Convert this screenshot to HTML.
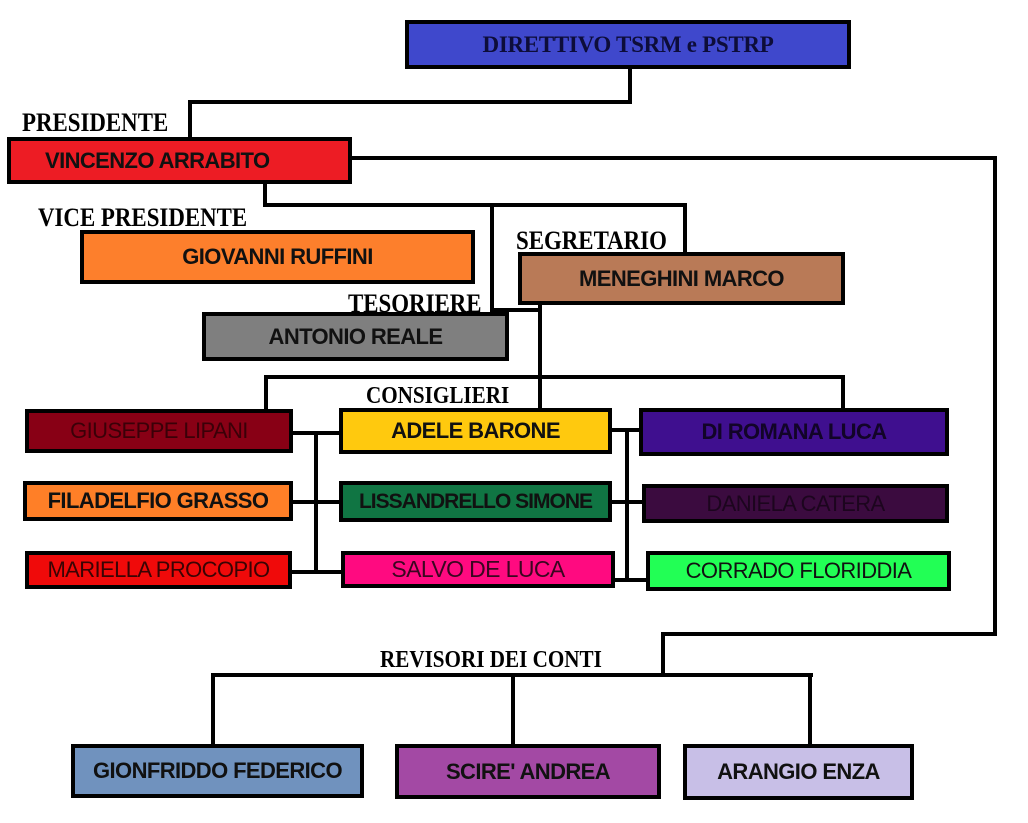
<!DOCTYPE html>
<html><head><meta charset="utf-8"><style>
body{margin:0;width:1028px;height:823px;background:#fff;position:relative;overflow:hidden}
.b{position:absolute;box-sizing:border-box;border:4px solid #000;display:flex;align-items:center;justify-content:center;font-family:"Liberation Sans",sans-serif;font-weight:bold;font-size:22px;letter-spacing:-0.6px;color:#111;white-space:nowrap}
.l{position:absolute;background:#000}
.t{position:absolute;font-family:"Liberation Serif",serif;font-weight:bold;font-size:26px;color:#000;white-space:nowrap;transform-origin:left top;transform:scaleX(0.88);line-height:1}
</style></head><body>
<!-- lines -->
<div class="l" style="left:628px;top:66px;width:4px;height:38px"></div>
<div class="l" style="left:188px;top:100px;width:444px;height:4px"></div>
<div class="l" style="left:188px;top:100px;width:4px;height:40px"></div>
<div class="l" style="left:349px;top:156px;width:648px;height:4px"></div>
<div class="l" style="left:993px;top:156px;width:4px;height:480px"></div>
<div class="l" style="left:661px;top:632px;width:336px;height:4px"></div>
<div class="l" style="left:661px;top:632px;width:4px;height:45px"></div>
<div class="l" style="left:211px;top:673px;width:602px;height:4px"></div>
<div class="l" style="left:211px;top:673px;width:4px;height:73px"></div>
<div class="l" style="left:511px;top:673px;width:4px;height:73px"></div>
<div class="l" style="left:808px;top:673px;width:4px;height:73px"></div>
<div class="l" style="left:263px;top:181px;width:4px;height:26px"></div>
<div class="l" style="left:263px;top:203px;width:424px;height:4px"></div>
<div class="l" style="left:683px;top:203px;width:4px;height:51px"></div>
<div class="l" style="left:490px;top:203px;width:4px;height:109px"></div>
<div class="l" style="left:490px;top:308px;width:50px;height:4px"></div>
<div class="l" style="left:538px;top:302px;width:4px;height:108px"></div>
<div class="l" style="left:264px;top:375px;width:581px;height:4px"></div>
<div class="l" style="left:264px;top:375px;width:4px;height:36px"></div>
<div class="l" style="left:841px;top:375px;width:4px;height:35px"></div>
<div class="l" style="left:314px;top:431px;width:4px;height:143px"></div>
<div class="l" style="left:290px;top:431px;width:51px;height:4px"></div>
<div class="l" style="left:290px;top:500px;width:51px;height:4px"></div>
<div class="l" style="left:290px;top:570px;width:53px;height:4px"></div>
<div class="l" style="left:625px;top:428px;width:4px;height:154px"></div>
<div class="l" style="left:609px;top:428px;width:32px;height:4px"></div>
<div class="l" style="left:609px;top:500px;width:35px;height:4px"></div>
<div class="l" style="left:612px;top:578px;width:36px;height:4px"></div>
<!-- labels -->
<div class="t" style="left:22px;top:110px">PRESIDENTE</div>
<div class="t" style="left:38px;top:205px">VICE PRESIDENTE</div>
<div class="t" style="left:516px;top:228px">SEGRETARIO</div>
<div class="t" style="left:348px;top:291px">TESORIERE</div>
<div class="t" style="left:366px;top:384px;font-size:24px">CONSIGLIERI</div>
<div class="t" style="left:380px;top:648px;font-size:24px">REVISORI DEI CONTI</div>
<!-- boxes -->
<div class="b" style="left:405px;top:20px;width:446px;height:49px;background:#3f48cc;font-family:'Liberation Serif',serif;font-size:23px;letter-spacing:-0.3px;color:#0d0d3a">DIRETTIVO TSRM e PSTRP</div>
<div class="b" style="left:7px;top:137px;width:345px;height:47px;background:#ed1c24;justify-content:flex-start;padding-left:34px">VINCENZO ARRABITO</div>
<div class="b" style="left:80px;top:230px;width:395px;height:54px;background:#fd7f2c">GIOVANNI RUFFINI</div>
<div class="b" style="left:518px;top:252px;width:327px;height:53px;background:#b97a57">MENEGHINI MARCO</div>
<div class="b" style="left:202px;top:312px;width:307px;height:49px;background:#7f7f7f">ANTONIO REALE</div>
<div class="b" style="left:25px;top:409px;width:268px;height:44px;background:#880015;color:#3a0008;font-weight:normal">GIUSEPPE LIPANI</div>
<div class="b" style="left:339px;top:408px;width:273px;height:46px;background:#ffc90e">ADELE BARONE</div>
<div class="b" style="left:639px;top:408px;width:310px;height:48px;background:#3f0f8f;color:#120428">DI ROMANA LUCA</div>
<div class="b" style="left:23px;top:481px;width:270px;height:40px;background:#ff7f27">FILADELFIO GRASSO</div>
<div class="b" style="left:339px;top:481px;width:273px;height:41px;background:#107543;font-size:21px;letter-spacing:-1px">LISSANDRELLO SIMONE</div>
<div class="b" style="left:642px;top:484px;width:307px;height:39px;background:#3b0b3f;color:#1c051e;font-weight:normal">DANIELA CATERA</div>
<div class="b" style="left:25px;top:551px;width:267px;height:38px;background:#f00a0a;color:#3a0404;font-weight:normal">MARIELLA PROCOPIO</div>
<div class="b" style="left:341px;top:551px;width:274px;height:37px;background:#ff0a80;color:#3a0620;font-weight:normal;font-size:23px">SALVO DE LUCA</div>
<div class="b" style="left:646px;top:551px;width:305px;height:40px;background:#22ff55;font-weight:normal">CORRADO FLORIDDIA</div>
<div class="b" style="left:71px;top:744px;width:293px;height:54px;background:#7092be">GIONFRIDDO FEDERICO</div>
<div class="b" style="left:395px;top:744px;width:266px;height:55px;background:#a349a4">SCIRE' ANDREA</div>
<div class="b" style="left:683px;top:744px;width:231px;height:56px;background:#c8bfe7">ARANGIO ENZA</div>
</body></html>
